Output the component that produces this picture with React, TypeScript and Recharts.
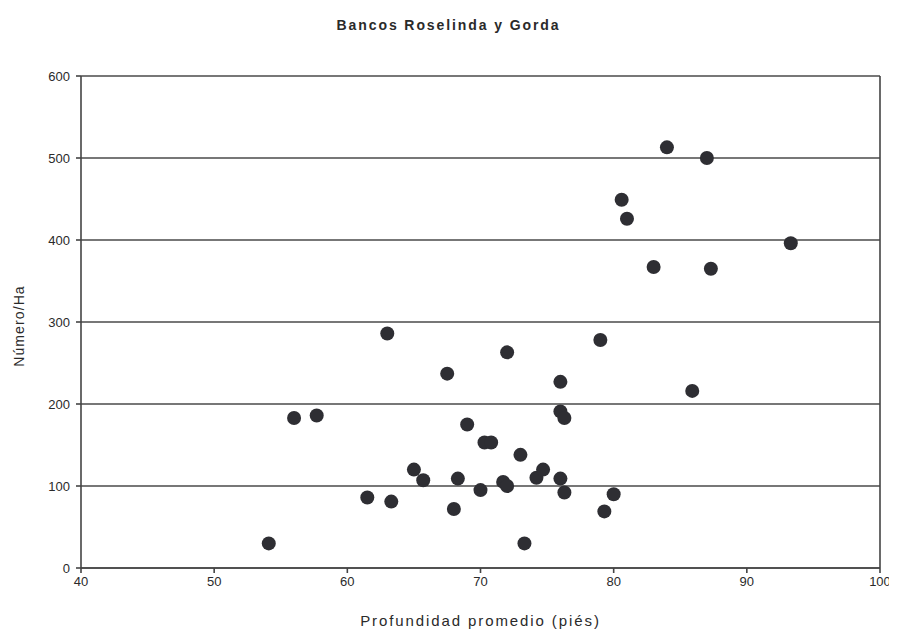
import React from 'react';
import {
  ScatterChart,
  Scatter,
  XAxis,
  YAxis,
  CartesianGrid,
  ReferenceLine,
} from 'recharts';

// Profundidad promedio (piés) vs Número/Ha
const depth = [
  54.1, 56.0, 57.7, 61.5, 63.3, 63.0, 65.0, 65.7, 67.5, 68.0,
  68.3, 69.0, 70.0, 70.3, 70.8, 71.7, 72.0, 72.0, 73.0, 73.3,
  74.2, 74.7, 76.0, 76.0, 76.3, 76.0, 76.3, 79.0, 79.3, 80.0,
  80.6, 81.0, 83.0, 84.0, 85.9, 87.0, 87.3, 93.3,
];
const perHa = [
  30, 183, 186, 86, 81, 286, 120, 107, 237, 72,
  109, 175, 95, 153, 153, 105, 100, 263, 138, 30,
  110, 120, 227, 191, 183, 109, 92, 278, 69, 90,
  449, 426, 367, 513, 216, 500, 365, 396,
];
const xTicks = [40, 50, 60, 70, 80, 90, 100];
const yTicks = [0, 100, 200, 300, 400, 500, 600];

const points = depth.map((x, i) => ({ x, y: perHa[i] }));

const FONT = '"Liberation Sans", Arial, sans-serif';
const INK = '#2a2a2a';

const Dot = (props: any) => {
  const { cx, cy } = props;
  return <circle cx={cx} cy={cy} r={7} fill="#2e2e33" />;
};

const YLabel = (props: any) => {
  const { viewBox } = props;
  const x = viewBox.x + 19;
  const y = viewBox.y + viewBox.height / 2 + 4;
  return (
    <text
      x={x}
      y={y}
      transform={`rotate(-90, ${x}, ${y})`}
      textAnchor="middle"
      dominantBaseline="central"
      fill={INK}
      fontSize={14}
      fontFamily={FONT}
      letterSpacing={1.1}
    >
      Número/Ha
    </text>
  );
};

export default function App() {
  return (
    <div style={{ position: 'relative', width: 897, height: 637, margin: -8, background: '#fff', fontFamily: FONT }}>
      <div
        style={{
          position: 'absolute',
          top: 17,
          left: 0,
          width: 897,
          textAlign: 'center',
          fontSize: 14,
          letterSpacing: 1.9,
          color: INK,
          fontWeight: 'bold',
        }}
      >
        Bancos Roselinda y Gorda
      </div>
      <ScatterChart width={897} height={637} margin={{ top: 76, right: 17, bottom: 0, left: 0 }}>
        <CartesianGrid vertical={false} stroke="#4a4a4a" strokeWidth={1.6} />
        <XAxis
          type="number"
          dataKey="x"
          domain={[40, 100]}
          ticks={xTicks}
          height={69}
          tickSize={5}
          tickMargin={4}
          stroke="#444"
          strokeWidth={1.6}
          tick={{ fill: INK, fontSize: 13, fontFamily: FONT }}
          label={{ value: 'Profundidad promedio (piés)', position: 'insideBottom', offset: 11, fill: INK, fontSize: 15, fontFamily: FONT, letterSpacing: 1.9 }}
        />
        <YAxis
          type="number"
          dataKey="y"
          domain={[0, 600]}
          ticks={yTicks}
          width={81}
          tickSize={5}
          tickMargin={6}
          stroke="#444"
          strokeWidth={1.6}
          tick={{ fill: INK, fontSize: 13, fontFamily: FONT }}
          label={<YLabel />}
        />
        <ReferenceLine x={100} stroke="#444" strokeWidth={1.6} />
        <Scatter data={points} shape={<Dot />} isAnimationActive={false} />
      </ScatterChart>
    </div>
  );
}
